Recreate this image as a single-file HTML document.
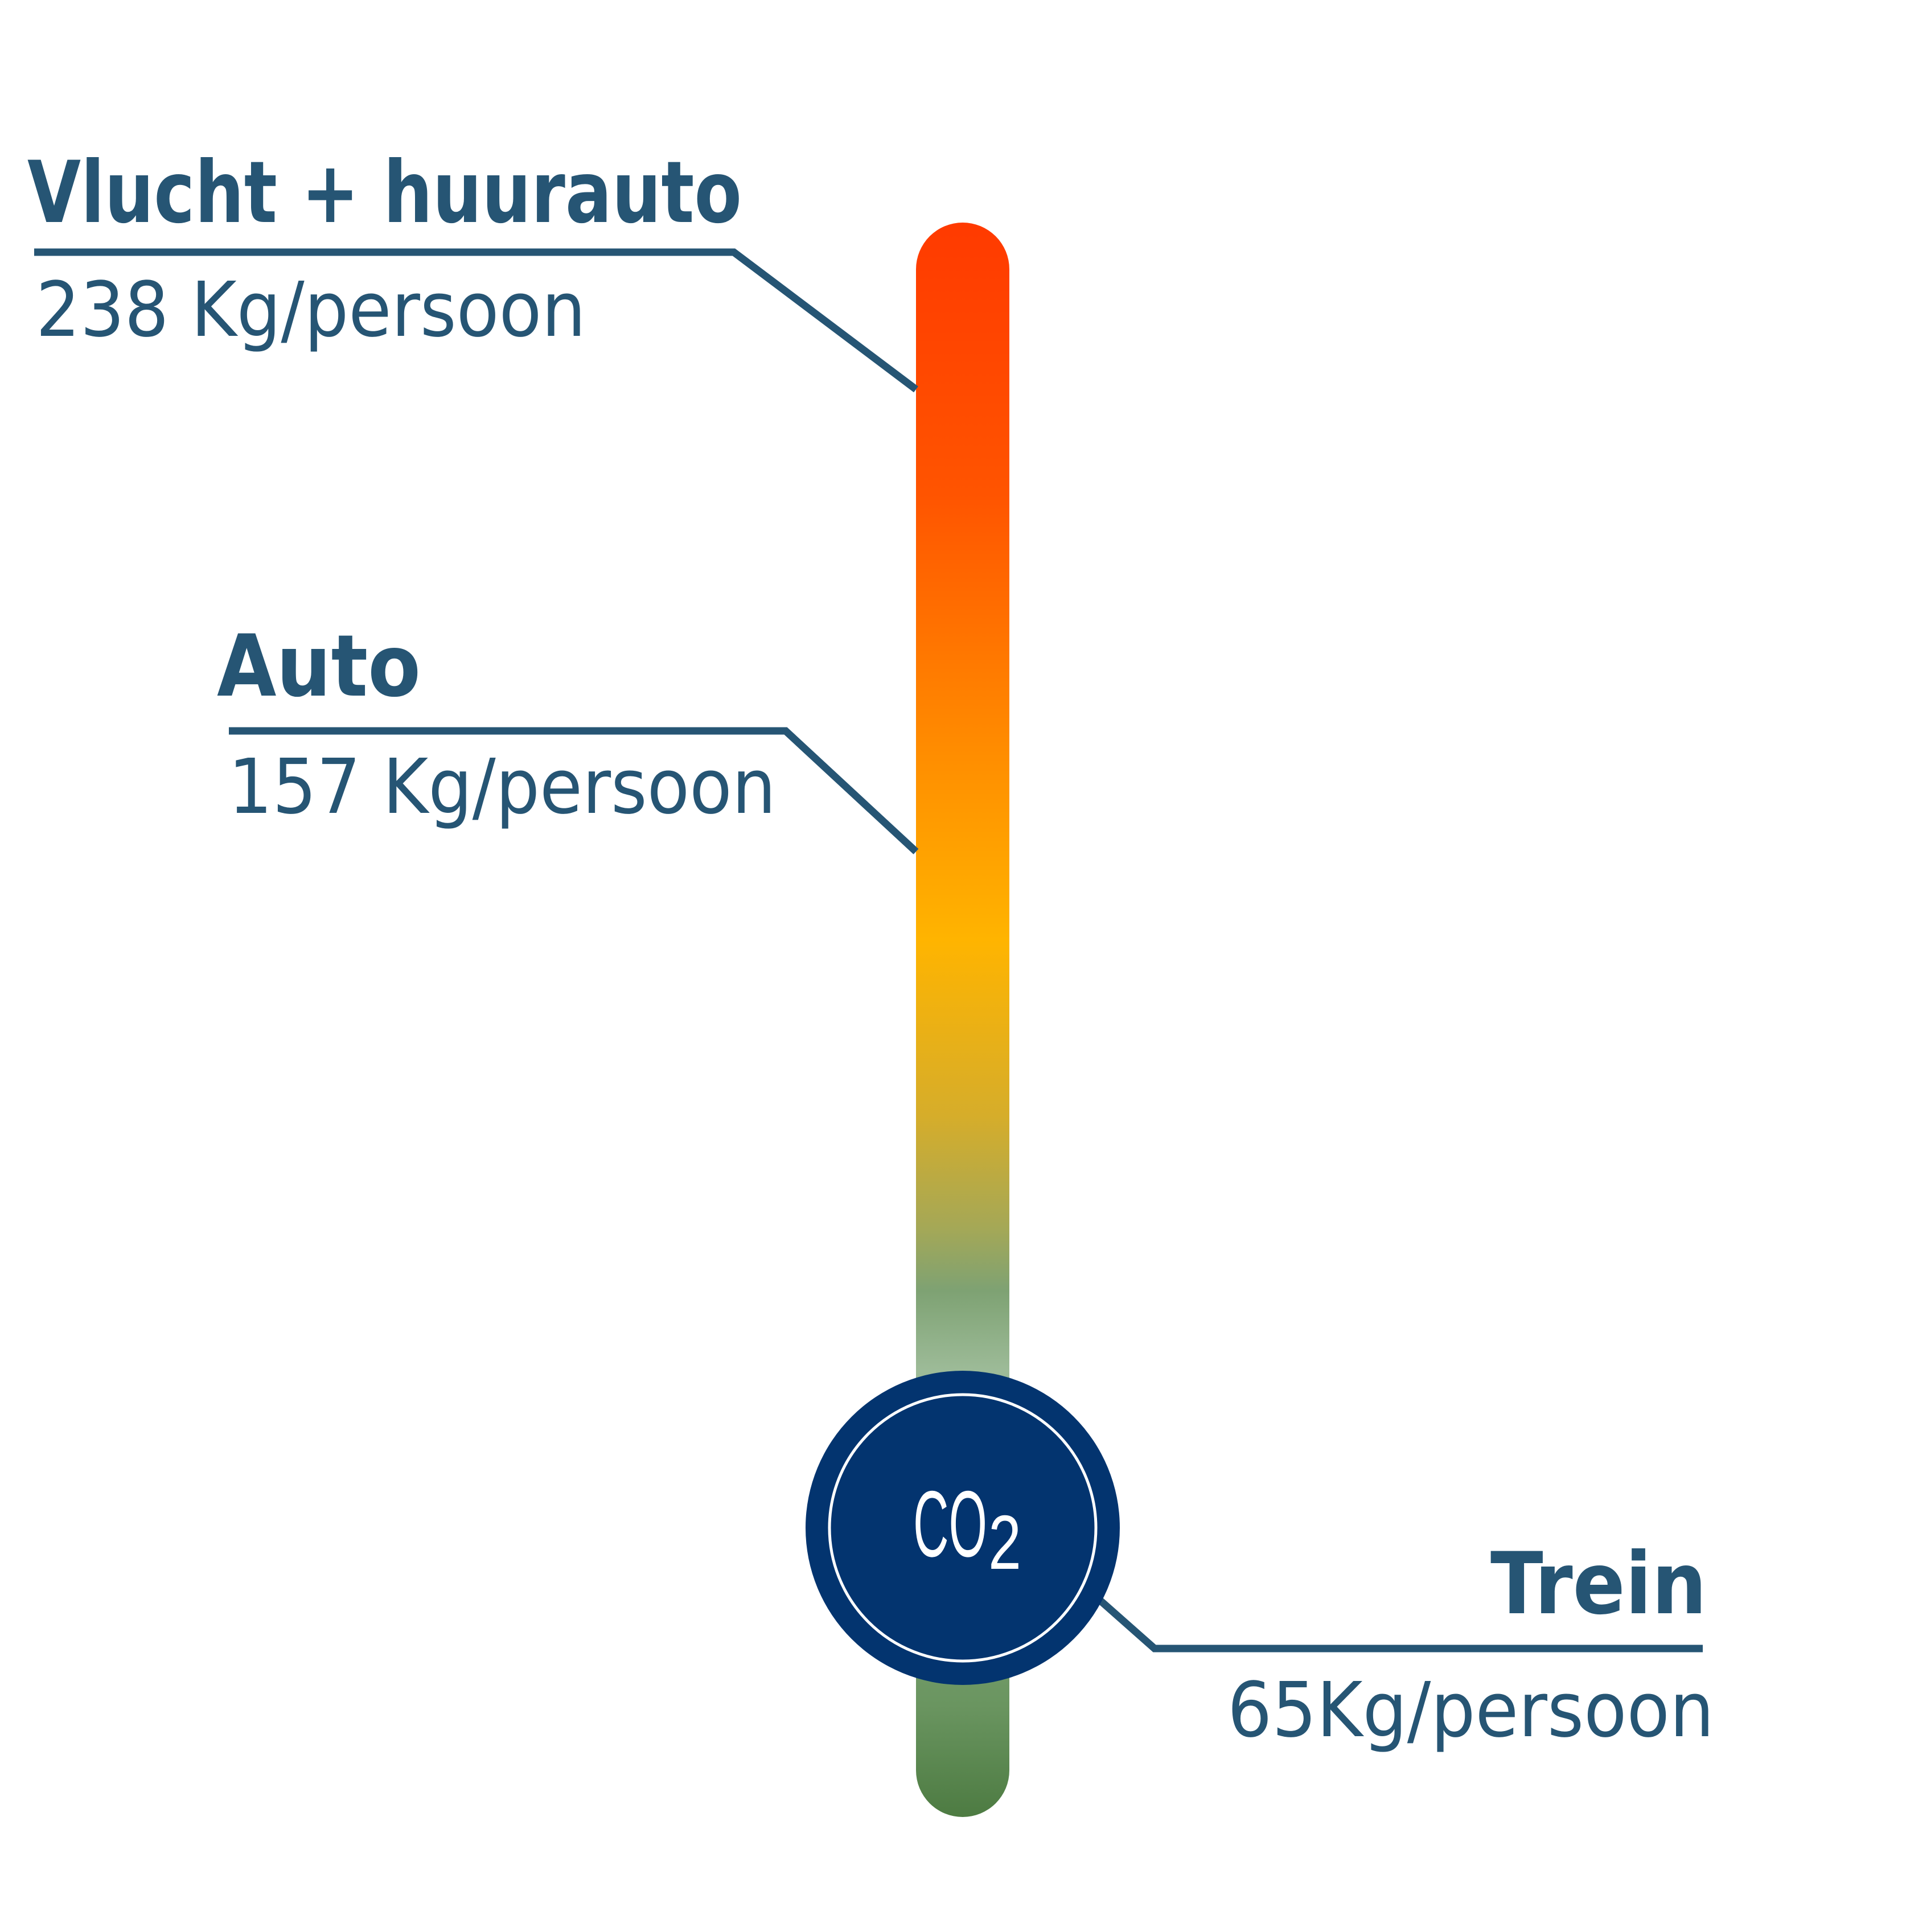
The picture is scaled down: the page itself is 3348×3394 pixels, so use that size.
<!DOCTYPE html>
<html><head><meta charset="utf-8"><style>html,body{margin:0;padding:0;background:#fff}svg{display:block}</style></head>
<body>
<svg width="3348" height="3394" viewBox="0 0 3348 3394" xmlns="http://www.w3.org/2000/svg">
<defs>
<linearGradient id="g" x1="0" y1="391" x2="0" y2="3192" gradientUnits="userSpaceOnUse">
<stop offset="0" stop-color="#ff3a00"/>
<stop offset="0.17" stop-color="#ff5400"/>
<stop offset="0.33" stop-color="#ff8c00"/>
<stop offset="0.45" stop-color="#ffb400"/>
<stop offset="0.56" stop-color="#d6ad2a"/>
<stop offset="0.63" stop-color="#a5a856"/>
<stop offset="0.67" stop-color="#7ea273"/>
<stop offset="0.72" stop-color="#9dbb98"/>
<stop offset="0.93" stop-color="#6a9560"/>
<stop offset="1" stop-color="#4d7b42"/>
</linearGradient>
</defs>
<rect x="1609" y="391" width="164" height="2801" rx="82" fill="url(#g)"/>
<g fill="none" stroke="#265574" stroke-width="13">
<polyline points="60,443 1289,443 1609,684"/>
<polyline points="402,1284 1380,1284 1609,1496"/>
<polyline points="1933,2812 2028,2896 2991,2896"/>
</g>
<circle cx="1691" cy="2684" r="276" fill="#03346f"/>
<circle cx="1691" cy="2684" r="234" fill="none" stroke="#fff" stroke-width="5"/>
<g font-family="Liberation Sans Narrow, Liberation Sans, sans-serif" fill="#fff">
<text x="1604" y="2734" font-size="165" textLength="130" lengthAdjust="spacingAndGlyphs">CO</text>
<text x="1736" y="2756" font-size="135" textLength="58" lengthAdjust="spacingAndGlyphs">2</text>
</g>
<g font-family="DejaVu Sans, Liberation Sans, sans-serif" fill="#265574">
<text x="48" y="390" font-size="150" font-weight="bold" textLength="1255" lengthAdjust="spacingAndGlyphs">Vlucht + huurauto</text>
<text x="63" y="590" font-size="133" textLength="966" lengthAdjust="spacingAndGlyphs">238 Kg/persoon</text>
<text x="381" y="1222" font-size="150" font-weight="bold" textLength="358" lengthAdjust="spacingAndGlyphs">Auto</text>
<text x="401" y="1428" font-size="133" textLength="962" lengthAdjust="spacingAndGlyphs">157 Kg/persoon</text>
<text x="2998" y="2834" font-size="150" font-weight="bold" text-anchor="end" textLength="380" lengthAdjust="spacingAndGlyphs">Trein</text>
<text x="3011" y="3050" font-size="133" text-anchor="end" textLength="855" lengthAdjust="spacingAndGlyphs">65Kg/persoon</text>
</g>
</svg>
</body></html>
